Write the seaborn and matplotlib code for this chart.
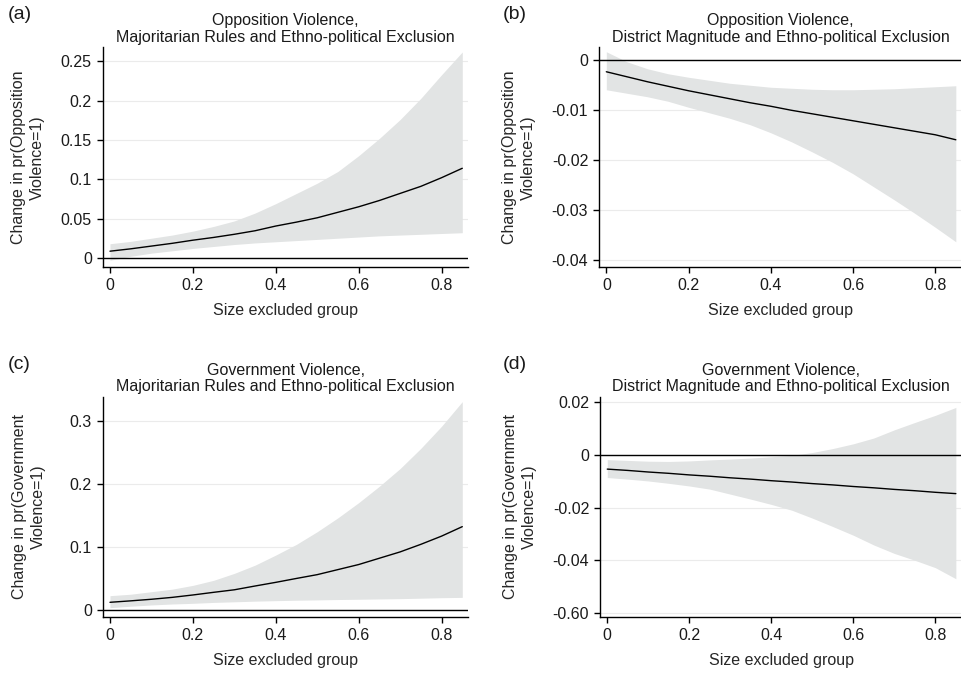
import matplotlib
matplotlib.use("Agg")
import numpy as np
import pandas as pd
import seaborn as sns
from matplotlib import pyplot as plt

# size of excluded group (x grid)
size_excl = [0.0, 0.05, 0.1, 0.15, 0.2, 0.25, 0.3, 0.35, 0.4, 0.45,
             0.5, 0.55, 0.6, 0.65, 0.7, 0.75, 0.8, 0.85]

# (a) opposition violence, majoritarian rules
a_est = [0.0085, 0.0115, 0.015, 0.0185, 0.0225, 0.026, 0.030, 0.0345, 0.0405, 0.0455,
         0.051, 0.058, 0.065, 0.073, 0.082, 0.091, 0.102, 0.114]
a_hi = [0.018, 0.021, 0.025, 0.029, 0.034, 0.040, 0.047, 0.057, 0.069, 0.082,
        0.095, 0.110, 0.130, 0.152, 0.176, 0.203, 0.233, 0.262]
a_lo = [-0.003, 0.002, 0.006, 0.009, 0.012, 0.0145, 0.017, 0.019, 0.0205, 0.022,
        0.0235, 0.025, 0.0265, 0.028, 0.029, 0.030, 0.031, 0.032]

# (b) opposition violence, district magnitude
b_est = [-0.0023, -0.0033, -0.0043, -0.0052, -0.0061, -0.0069, -0.0077, -0.0085, -0.0092, -0.0100,
         -0.0107, -0.0114, -0.0121, -0.0128, -0.0135, -0.0142, -0.0149, -0.0159]
b_hi = [0.0017, -0.0003, -0.0017, -0.0027, -0.0034, -0.0040, -0.0046, -0.0050, -0.0054, -0.0056,
        -0.0058, -0.0059, -0.0059, -0.0058, -0.0057, -0.0055, -0.0053, -0.0051]
b_lo = [-0.0059, -0.0066, -0.0073, -0.0082, -0.0094, -0.0105, -0.0116, -0.0129, -0.0145, -0.0163,
        -0.0183, -0.0204, -0.0227, -0.0253, -0.0279, -0.0306, -0.0334, -0.0363]

# (c) government violence, majoritarian rules
c_est = [0.0122, 0.0145, 0.017, 0.020, 0.0238, 0.028, 0.032, 0.038, 0.0438, 0.050,
         0.056, 0.064, 0.072, 0.082, 0.092, 0.104, 0.117, 0.132]
c_hi = [0.0227, 0.025, 0.029, 0.033, 0.039, 0.047, 0.058, 0.071, 0.087, 0.104,
        0.124, 0.146, 0.170, 0.196, 0.224, 0.256, 0.291, 0.330]
c_lo = [0.0037, 0.006, 0.008, 0.0095, 0.0106, 0.012, 0.013, 0.014, 0.0148, 0.0155,
        0.016, 0.0166, 0.017, 0.0175, 0.018, 0.0187, 0.0195, 0.020]

# (d) government violence, district magnitude
d_est = [-0.0054, -0.0059, -0.0065, -0.0070, -0.0076, -0.0081, -0.0087, -0.0092, -0.0098, -0.0103,
         -0.0109, -0.0114, -0.0120, -0.0125, -0.0131, -0.0136, -0.0142, -0.0147]
d_hi = [-0.0018, -0.0021, -0.0024, -0.0025, -0.0023, -0.0019, -0.0016, -0.0012, -0.0007, -0.0002,
        0.0009, 0.0024, 0.0042, 0.0064, 0.0095, 0.0123, 0.0150, 0.018]
d_lo = [-0.0086, -0.0092, -0.0099, -0.0108, -0.0118, -0.0130, -0.0149, -0.0168, -0.0188, -0.0210,
        -0.0240, -0.0272, -0.0305, -0.0342, -0.0374, -0.0400, -0.0428, -0.047]

panels = [
    ("(a)", "Opposition Violence,\nMajoritarian Rules and Ethno-political Exclusion",
     "Change in pr(Opposition\nViolence=1)", a_est, a_lo, a_hi,
     [0, 0.05, 0.1, 0.15, 0.2, 0.25], ["0", "0.05", "0.1", "0.15", "0.2", "0.25"], (-0.012, 0.268)),
    ("(b)", "Opposition Violence,\nDistrict Magnitude and Ethno-political Exclusion",
     "Change in pr(Opposition\nViolence=1)", b_est, b_lo, b_hi,
     [0, -0.01, -0.02, -0.03, -0.04], ["0", "-0.01", "-0.02", "-0.03", "-0.04"], (-0.0414, 0.0026)),
    ("(c)", "Government Violence,\nMajoritarian Rules and Ethno-political Exclusion",
     "Change in pr(Government\nViolence=1)", c_est, c_lo, c_hi,
     [0, 0.1, 0.2, 0.3], ["0", "0.1", "0.2", "0.3"], (-0.011, 0.3375)),
    ("(d)", "Government Violence,\nDistrict Magnitude and Ethno-political Exclusion",
     "Change in pr(Government\nViolence=1)", d_est, d_lo, d_hi,
     [0.02, 0, -0.02, -0.04, -0.06], ["0.02", "0", "-0.02", "-0.04", "-0.60"], (-0.0615, 0.022)),
]

sns.set_style("ticks")
plt.rcParams["font.family"] = ["Liberation Sans", "DejaVu Sans"]
plt.rcParams["text.color"] = "#1a1a1a"

fig = plt.figure(figsize=(9.62, 6.75), dpi=100)
positions = [
    [0.107, 0.604, 0.380, 0.326],
    [0.623, 0.604, 0.377, 0.326],
    [0.107, 0.086, 0.380, 0.326],
    [0.624, 0.086, 0.376, 0.326],
]
letter_x = [0.008, 0.523, 0.008, 0.523]
ylabel_pad = [11, 11, 17, 11]

fs = 11.5
for pos, lx, lp, (letter, title, ylab, est, lo, hi, yt, ytl, ylim) in zip(
        positions, letter_x, ylabel_pad, panels):
    ax = fig.add_axes(pos)
    df = pd.DataFrame({"x": size_excl, "est": est, "lo": lo, "hi": hi})
    for t in yt:
        ax.axhline(t, color="#ebebeb", lw=0.8, zorder=0)
    ax.fill_between(df["x"], df["lo"], df["hi"], color="#e2e4e4", lw=0, zorder=1)
    ax.axhline(0, color="black", lw=1.0, zorder=2)
    sns.lineplot(data=df, x="x", y="est", color="black", lw=1.0, ax=ax, zorder=3)
    ax.set_xlim(-0.017, 0.865)
    ax.set_ylim(*ylim)
    ax.set_xticks([0, 0.2, 0.4, 0.6, 0.8])
    ax.set_xticklabels(["0", "0.2", "0.4", "0.6", "0.8"])
    ax.set_yticks(yt)
    ax.set_yticklabels(ytl)
    ax.tick_params(labelsize=fs, length=4, width=1, color="black",
                   labelcolor="#1a1a1a", pad=4)
    sns.despine(ax=ax)
    for s in ["left", "bottom"]:
        ax.spines[s].set_color("black")
        ax.spines[s].set_linewidth(1.0)
    ax.set_xlabel("Size excluded group", fontsize=fs, labelpad=7)
    ax.set_ylabel(ylab, fontsize=fs, labelpad=lp, linespacing=1.35)
    ax.set_title(title, fontsize=fs, linespacing=1.1, pad=4)
    fig.text(lx, pos[1] + pos[3] + 0.048, letter, fontsize=14, va="center", ha="left")

fig.savefig("out.png", dpi=100)
